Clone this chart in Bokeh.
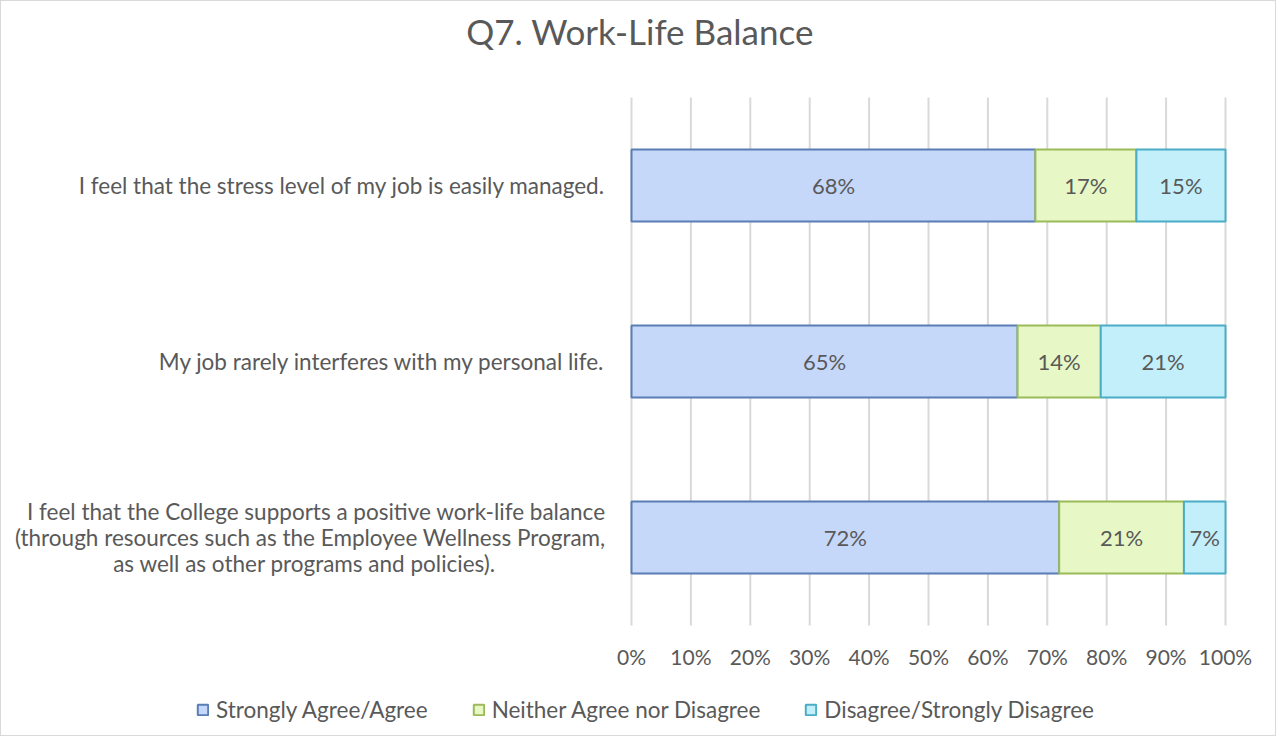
from bokeh.plotting import figure
from bokeh.models import ColumnDataSource, Range1d, FixedTicker, LabelSet, Label, Legend, LegendItem, LinearAxis
from bokeh.embed import file_html
from bokeh.resources import INLINE
from bokeh.core.properties import value

categories = [
    "I feel that the College supports a positive work-life balance\n(through resources such as the Employee Wellness Program,\nas well as other programs and policies).",
    "My job rarely interferes with my personal life.",
    "I feel that the stress level of my job is easily managed.",
]
agree = [72, 65, 68]
neither = [21, 14, 17]
disagree = [7, 21, 15]
series_names = ["Strongly Agree/Agree", "Neither Agree nor Disagree", "Disagree/Strongly Disagree"]
x_ticks = [0, 10, 20, 30, 40, 50, 60, 70, 80, 90, 100]
title_text = "Q7. Work-Life Balance"

FONT = "Lato"
GREY = "#595959"
fills = ["#c6d8f9", "#e7f7c6", "#c3effb"]
lines = ["#5a7db5", "#9bbb59", "#4bacc6"]

ypos = list(range(len(categories)))
left1 = [0] * len(agree)
right1 = agree
left2 = agree
right2 = [a + n for a, n in zip(agree, neither)]
left3 = right2
right3 = [a + n + d for a, n, d in zip(agree, neither, disagree)]

src = ColumnDataSource(dict(
    y=ypos, l1=left1, r1=right1, l2=left2, r2=right2, l3=left3, r3=right3,
    c1=[(a + b) / 2 for a, b in zip(left1, right1)],
    c2=[(a + b) / 2 for a, b in zip(left2, right2)],
    c3=[(a + b) / 2 for a, b in zip(left3, right3)],
    t1=[f"{v}%" for v in agree],
    t2=[f"{v}%" for v in neither],
    t3=[f"{v}%" for v in disagree],
))


def wrap_label(label):
    # Excel centres the last short line of a wrapped category name;
    # pad it with non-breaking spaces so the right-aligned axis label mimics that
    parts = label.split("\n")
    if len(parts) < 3:
        return label
    parts[-1] = parts[-1] + "\u00a0" * 19
    return "\n".join(parts)


# The frame covers the whole canvas so that nothing (title, legend, labels) is clipped.
W, H = 1276, 736
PX_PER_PCT = 5.94        # frame: 0% .. 100% spans 594 px
PX_PER_CAT = 176         # one category band
LEFT_PAD, RIGHT_PAD, TOP_PAD, BOTTOM_PAD = 630, 52, 96, 112
n = len(categories)
x_range = Range1d(-LEFT_PAD / PX_PER_PCT, 100 + RIGHT_PAD / PX_PER_PCT)
y_range = Range1d(-0.5 - BOTTOM_PAD / PX_PER_CAT, n - 0.5 + TOP_PAD / PX_PER_CAT)

p = figure(width=W, height=H, output_backend="svg", toolbar_location=None,
           x_range=x_range, y_range=y_range, x_axis_type=None, y_axis_type=None, min_border=0)
p.styles = {"border": "1px solid #d9d9d9"}
p.outline_line_color = None
p.background_fill_color = "white"
p.border_fill_color = "white"
p.grid.grid_line_color = None

# vertical gridlines over the category area only
p.segment(x0=x_ticks, x1=x_ticks, y0=[-0.5] * len(x_ticks), y1=[n - 0.5] * len(x_ticks),
          line_color="#d9d9d9", line_width=2)

h = 0.41
r1 = p.hbar(y="y", left="l1", right="r1", height=h, source=src, fill_color=fills[0], line_color=lines[0], line_width=2)
r2 = p.hbar(y="y", left="l2", right="r2", height=h, source=src, fill_color=fills[1], line_color=lines[1], line_width=2)
r3 = p.hbar(y="y", left="l3", right="r3", height=h, source=src, fill_color=fills[2], line_color=lines[2], line_width=2)

for c, t in (("c1", "t1"), ("c2", "t2"), ("c3", "t3")):
    p.add_layout(LabelSet(x=c, y="y", text=t, source=src, text_align="center", text_baseline="middle",
                          text_font=value(FONT), text_font_size="22px", text_color=GREY))

# title
p.add_layout(Label(x=8.5 / PX_PER_PCT, y=n - 0.5 + 67 / PX_PER_CAT, text=title_text,
                   text_align="center", text_baseline="alphabetic",
                   text_font=FONT, text_font_size="35px", text_color=GREY))

# axes drawn at fixed locations inside the frame
xaxis = LinearAxis(fixed_location=-0.5, ticker=FixedTicker(ticks=x_ticks),
                   major_label_overrides={t: f"{t}%" for t in x_ticks},
                   axis_line_color=None, major_tick_line_color=None, minor_tick_line_color=None,
                   major_label_standoff=12, major_label_text_font=FONT,
                   major_label_text_font_size="21px", major_label_text_color=GREY)
p.add_layout(xaxis, "below")

yaxis = LinearAxis(fixed_location=0, ticker=FixedTicker(ticks=ypos),
                   major_label_overrides={i: wrap_label(c) for i, c in zip(ypos, categories)},
                   axis_line_color=None, major_tick_line_color=None, minor_tick_line_color=None,
                   major_label_standoff=20, major_label_text_font=FONT,
                   major_label_text_font_size="22.5px", major_label_text_color=GREY,
                   major_label_text_line_height=0.98)
p.add_layout(yaxis, "left")

legend = Legend(items=[LegendItem(label=nm, renderers=[r]) for nm, r in zip(series_names, [r1, r2, r3])],
                orientation="horizontal", location=(195, 14),
                glyph_width=13, glyph_height=13, label_standoff=7, spacing=44,
                label_text_font=FONT, label_text_font_size="22.5px", label_text_color=GREY,
                border_line_color=None, background_fill_alpha=0, padding=0, margin=0)
p.add_layout(legend, "center")

open("out.html", "w").write(file_html(p, INLINE))
